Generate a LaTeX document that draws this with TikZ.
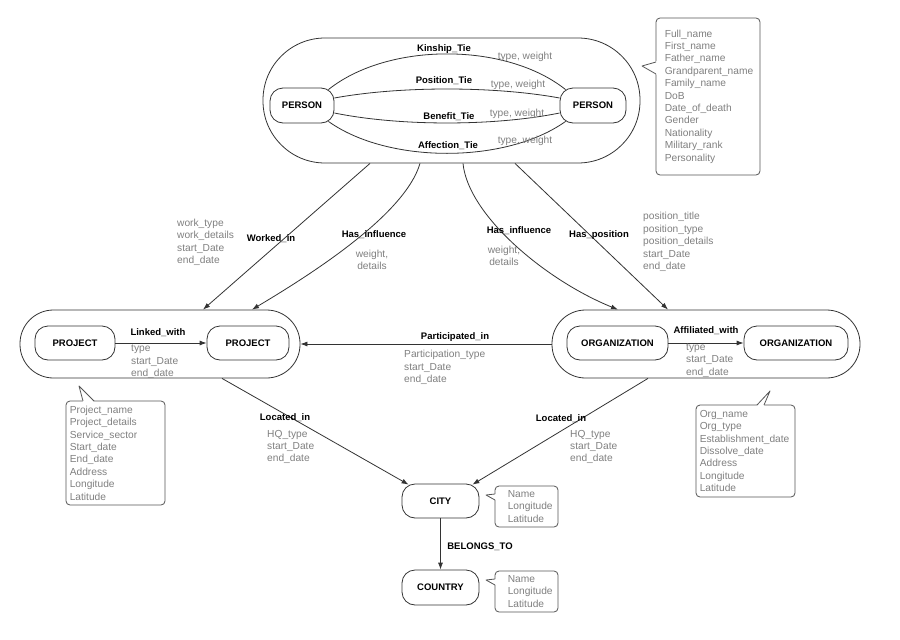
\documentclass[tikz,border=0pt]{standalone}
\usepackage{fontspec}
\setmainfont{Liberation Sans}
\usetikzlibrary{arrows.meta,calc}
\definecolor{ln}{HTML}{333333}
\definecolor{gtx}{HTML}{808080}
\definecolor{bx}{HTML}{555555}
\begin{document}
\begin{tikzpicture}[x=1pt,y=-1pt,
  ent/.style={draw=ln,line width=0.8pt,rounded corners=13pt,minimum width=#1,minimum height=34pt,inner sep=0pt,font=\fontsize{9.5}{11}\selectfont\bfseries},
  ent/.default=80pt,
  grp/.style={draw=ln,line width=0.8pt,inner sep=0pt},
  rel/.style={font=\fontsize{9.5}{11}\selectfont\bfseries,inner sep=0pt},
  att/.style={text=gtx,font=\fontsize{10.2}{12.4}\selectfont,align=left,inner sep=0pt,anchor=west},
  attc/.style={text=gtx,font=\fontsize{10.2}{12.4}\selectfont,align=center,inner sep=0pt},
  abox/.style={draw=bx,line width=0.8pt,rounded corners=4pt,inner sep=0pt},
  ptr/.style={draw=bx,line width=0.8pt,line join=round},
  conn/.style={draw=ln,line width=0.8pt},
  arr/.style={conn,-{Latex[length=7pt,width=5pt]}}]
\fill[white] (0,0) rectangle (900,640);
\useasboundingbox (0,0) rectangle (900,640);

% ---------- PERSON group ----------
\node[grp,minimum width=377pt,minimum height=125pt,rounded corners=62pt] (pg) at (451.5,100.5) {};
\node[ent=64pt,minimum height=35pt] (p1) at (302,105.5) {PERSON};
\node[ent=66pt,minimum height=35pt] (p2) at (593,105.5) {PERSON};

\draw[conn] ($(p1.north east)+(-6,2)$) .. controls (388,42) and (506,42) .. ($(p2.north west)+(6,2)$);
\draw[conn] ($(p1.east)+(0,-7.5)$) .. controls (400,86) and (494,86) .. ($(p2.west)+(0,-7.5)$);
\draw[conn] ($(p1.east)+(0,7.5)$) .. controls (400,126.3) and (494,126.3) .. ($(p2.west)+(0,7.5)$);
\draw[conn] ($(p1.south east)+(-6,-2)$) .. controls (388,164) and (506,164) .. ($(p2.south west)+(6,-2)$);

\node[rel] (lk) at (444,49) {Kinship\_Tie};
\node[rel] (lp) at (444,81) {Position\_Tie};
\node[rel] (lb) at (449,117) {Benefit\_Tie};
\node[rel] (la) at (448,146) {Affection\_Tie};
\node[attc] (tw1) at (525,57) {type, weight};
\node[attc] (tw2) at (518,85) {type, weight};
\node[attc] (tw3) at (517,114) {type, weight};
\node[attc] (tw4) at (525,141) {type, weight};

% person attributes
\node[abox,minimum width=104pt,minimum height=157pt] (pattr) at (708,96.5) {};
\fill[white] (657.5,61) -- (642,66) -- (657.5,75) -- cycle;
\draw[ptr] (656,62) -- (642,66) -- (656,74);
\node[att] (pattrt) at ($(pattr.west)+(9,0)$) {Full\_name\\First\_name\\Father\_name\\Grandparent\_name\\Family\_name\\DoB\\Date\_of\_death\\Gender\\Nationality\\Military\_rank\\Personality};

% ---------- PROJECT group ----------
\node[grp,minimum width=280pt,minimum height=68pt,rounded corners=33.5pt] (prg) at (160,344) {};
\node[ent=80pt] (pj1) at (75,343) {PROJECT};
\node[ent=82pt] (pj2) at (248,343) {PROJECT};
\draw[arr] (pj1.east) -- (pj2.west);
\node[rel] (llw) at (158,333) {Linked\_with};
\node[att] (llwa) at (131,362) {type\\start\_Date\\end\_date};

% ---------- ORGANIZATION group ----------
\node[grp,minimum width=308pt,minimum height=68pt,rounded corners=33.5pt] (og) at (706,344) {};
\node[ent=101pt] (o1) at (617.5,343) {ORGANIZATION};
\node[ent=104pt] (o2) at (796,343) {ORGANIZATION};
\draw[arr] (o1.east) -- (o2.west);
\node[rel] (law) at (706,331) {Affiliated\_with};
\node[att] (lawa) at (686,360.5) {type\\start\_Date\\end\_date};

% participated in
\draw[arr] (og.west) -- (prg.east);
\node[rel] (lpi) at (455,337) {Participated\_in};
\node[att] (lpia) at (404,367.5) {Participation\_type\\start\_Date\\end\_date};

% ---------- person -> project / organization ----------
\draw[arr] ($(pg.south)+(-81.5,0)$) -- ($(prg.north)+(43,0)$);
\draw[arr] ($(pg.south)+(-31.5,0)$) .. controls (405,215) and (310,275) .. ($(prg.north)+(92,0)$);
\draw[arr] ($(pg.south)+(11.5,0)$) .. controls (468,215) and (545,280) .. ($(og.north)+(-88,0)$);
\draw[arr] ($(pg.south)+(63.5,0)$) -- ($(og.north)+(-38,0)$);

\node[att] (wka) at (177,242.5) {work\_type\\work\_details\\start\_Date\\end\_date};
\node[rel] (lwi) at (271,239) {Worked\_in};
\node[rel] (lhi1) at (374,235) {Has\_influence};
\node[attc] (lhi1a) at (372,260) {weight,\\details};
\node[rel] (lhi2) at (519,231) {Has\_influence};
\node[attc] (lhi2a) at (504,256) {weight,\\details};
\node[rel] (lhp) at (599,235) {Has\_position};
\node[att] (lhpa) at (643,242) {position\_title\\position\_type\\position\_details\\start\_Date\\end\_date};

% project attributes
\node[abox,minimum width=99pt,minimum height=104pt] (prattr) at (115.5,453) {};
\fill[white] (83,402) -- (79,386) -- (94,402) -- cycle;
\draw[ptr] (83,401) -- (79,386) -- (94,401);
\node[att] (prattrt) at ($(prattr.west)+(4,0)$) {Project\_name\\Project\_details\\Service\_sector\\Start\_date\\End\_date\\Address\\Longitude\\Latitude};

% organization attributes
\node[abox,minimum width=99pt,minimum height=92pt] (oattr) at (745.5,451) {};
\fill[white] (757,406) -- (770,391) -- (764,406) -- cycle;
\draw[ptr] (757,405) -- (770,391) -- (764,405);
\node[att] (oattrt) at ($(oattr.west)+(4,0)$) {Org\_name\\Org\_type\\Establishment\_date\\Dissolve\_date\\Address\\Longitude\\Latitude};

% ---------- CITY / COUNTRY ----------
\node[ent=77pt] (city) at (440.5,501) {CITY};
\node[ent=77pt,minimum height=35pt] (country) at (440.5,587.5) {COUNTRY};
\draw[arr] (city.south) -- (country.north);
\node[rel] (lbt) at (480,547) {BELONGS\_TO};

\draw[arr] ($(prg.south)+(62,0)$) -- ($(city.north west)+(7,1)$);
\draw[arr] ($(og.south)+(-58,0)$) -- ($(city.north east)+(-7,1)$);
\node[rel] (lli1) at (285,418) {Located\_in};
\node[att] (lli1a) at (267,447) {HQ\_type\\start\_Date\\end\_date};
\node[rel] (lli2) at (561,419) {Located\_in};
\node[att] (lli2a) at (570,447) {HQ\_type\\start\_Date\\end\_date};

\node[abox,minimum width=63pt,minimum height=41pt] (cattr) at (526.5,506.5) {};
\fill[white] (496,494) -- (486,495) -- (496,500) -- cycle;
\draw[ptr] (495,494) -- (486,495) -- (495,500);
\node[att] (cattrt) at ($(cattr.west)+(13,0)$) {Name\\Longitude\\Latitude};

\node[abox,minimum width=63pt,minimum height=41pt] (coattr) at (526.5,591.5) {};
\fill[white] (496,579) -- (486,580) -- (496,585) -- cycle;
\draw[ptr] (495,579) -- (486,580) -- (495,585);
\node[att] (coattrt) at ($(coattr.west)+(13,0)$) {Name\\Longitude\\Latitude};
\end{tikzpicture}
\end{document}
